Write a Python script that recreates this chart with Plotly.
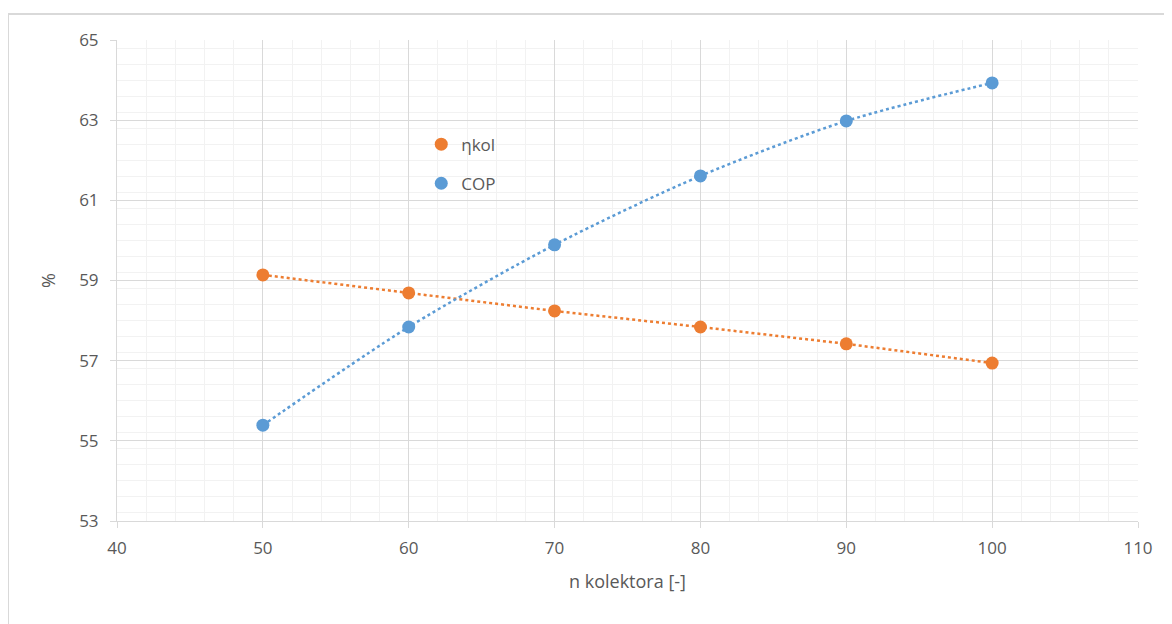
import plotly.graph_objects as go

n_kolektora = [50, 60, 70, 80, 90, 100]
eta_kol = [59.14, 58.69, 58.24, 57.84, 57.42, 56.94]
cop = [55.39, 57.84, 59.89, 61.61, 62.98, 63.93]

orange = "#ED7D31"
blue = "#5B9BD5"
txt = "#595959"
font_family = "Open Sans, Liberation Sans, sans-serif"

fig = go.Figure()
# dotted trend lines
fig.add_trace(go.Scatter(x=n_kolektora, y=eta_kol, mode="lines",
                         line=dict(color=orange, width=2.5, dash="dot"),
                         showlegend=False, hoverinfo="skip"))
fig.add_trace(go.Scatter(x=n_kolektora, y=cop, mode="lines",
                         line=dict(color=blue, width=2.5, dash="dot", shape="spline", smoothing=0.8),
                         showlegend=False, hoverinfo="skip"))
# markers
fig.add_trace(go.Scatter(x=n_kolektora, y=eta_kol, mode="markers", name="ηkol",
                         legendgroup="a",
                         marker=dict(color=orange, size=13)))
fig.add_trace(go.Scatter(x=n_kolektora, y=cop, mode="markers", name="COP",
                         legendgroup="b",
                         marker=dict(color=blue, size=13)))

fig.update_layout(
    width=1172, height=624,
    margin=dict(l=109, r=42, t=32, b=111),
    paper_bgcolor="white", plot_bgcolor="white",
    font=dict(family=font_family, color=txt, size=17),
    legend=dict(x=0.298, y=0.82, xanchor="left", yanchor="top",
                bgcolor="rgba(0,0,0,0)", font=dict(size=17, color=txt),
                tracegroupgap=14, itemwidth=30),
    xaxis=dict(range=[40, 110], dtick=10, tick0=40,
               showgrid=True, gridcolor="#D9D9D9", gridwidth=1,
               minor=dict(dtick=2, showgrid=True, gridcolor="#F2F2F2", gridwidth=1),
               showline=True, linecolor="#D9D9D9", linewidth=1,
               ticks="outside", ticklen=6, tickcolor="#D9D9D9",
               ticklabelstandoff=6,
               zeroline=False, tickfont=dict(size=17, color=txt),
               title=dict(text="n kolektora [-]", font=dict(size=18, color=txt), standoff=16)),
    yaxis=dict(range=[53, 65], dtick=2, tick0=53,
               showgrid=True, gridcolor="#D9D9D9", gridwidth=1,
               minor=dict(dtick=0.4, showgrid=True, gridcolor="#F2F2F2", gridwidth=1),
               showline=True, linecolor="#D9D9D9", linewidth=1,
               ticks="outside", ticklen=6, tickcolor="#D9D9D9",
               ticklabelstandoff=8,
               zeroline=False, tickfont=dict(size=17, color=txt),
               title=dict(text="%", font=dict(size=18, color=txt), standoff=18)),
    shapes=[dict(type="rect", xref="paper", yref="paper",
                 x0=(8 - 117) / 1021, x1=(1180 - 117) / 1021,
                 y0=(521 - 640) / 481, y1=(521 - 14) / 481,
                 line=dict(color="#D9D9D9", width=2), fillcolor="rgba(0,0,0,0)", layer="below")],
)

fig.write_html("out.html")
